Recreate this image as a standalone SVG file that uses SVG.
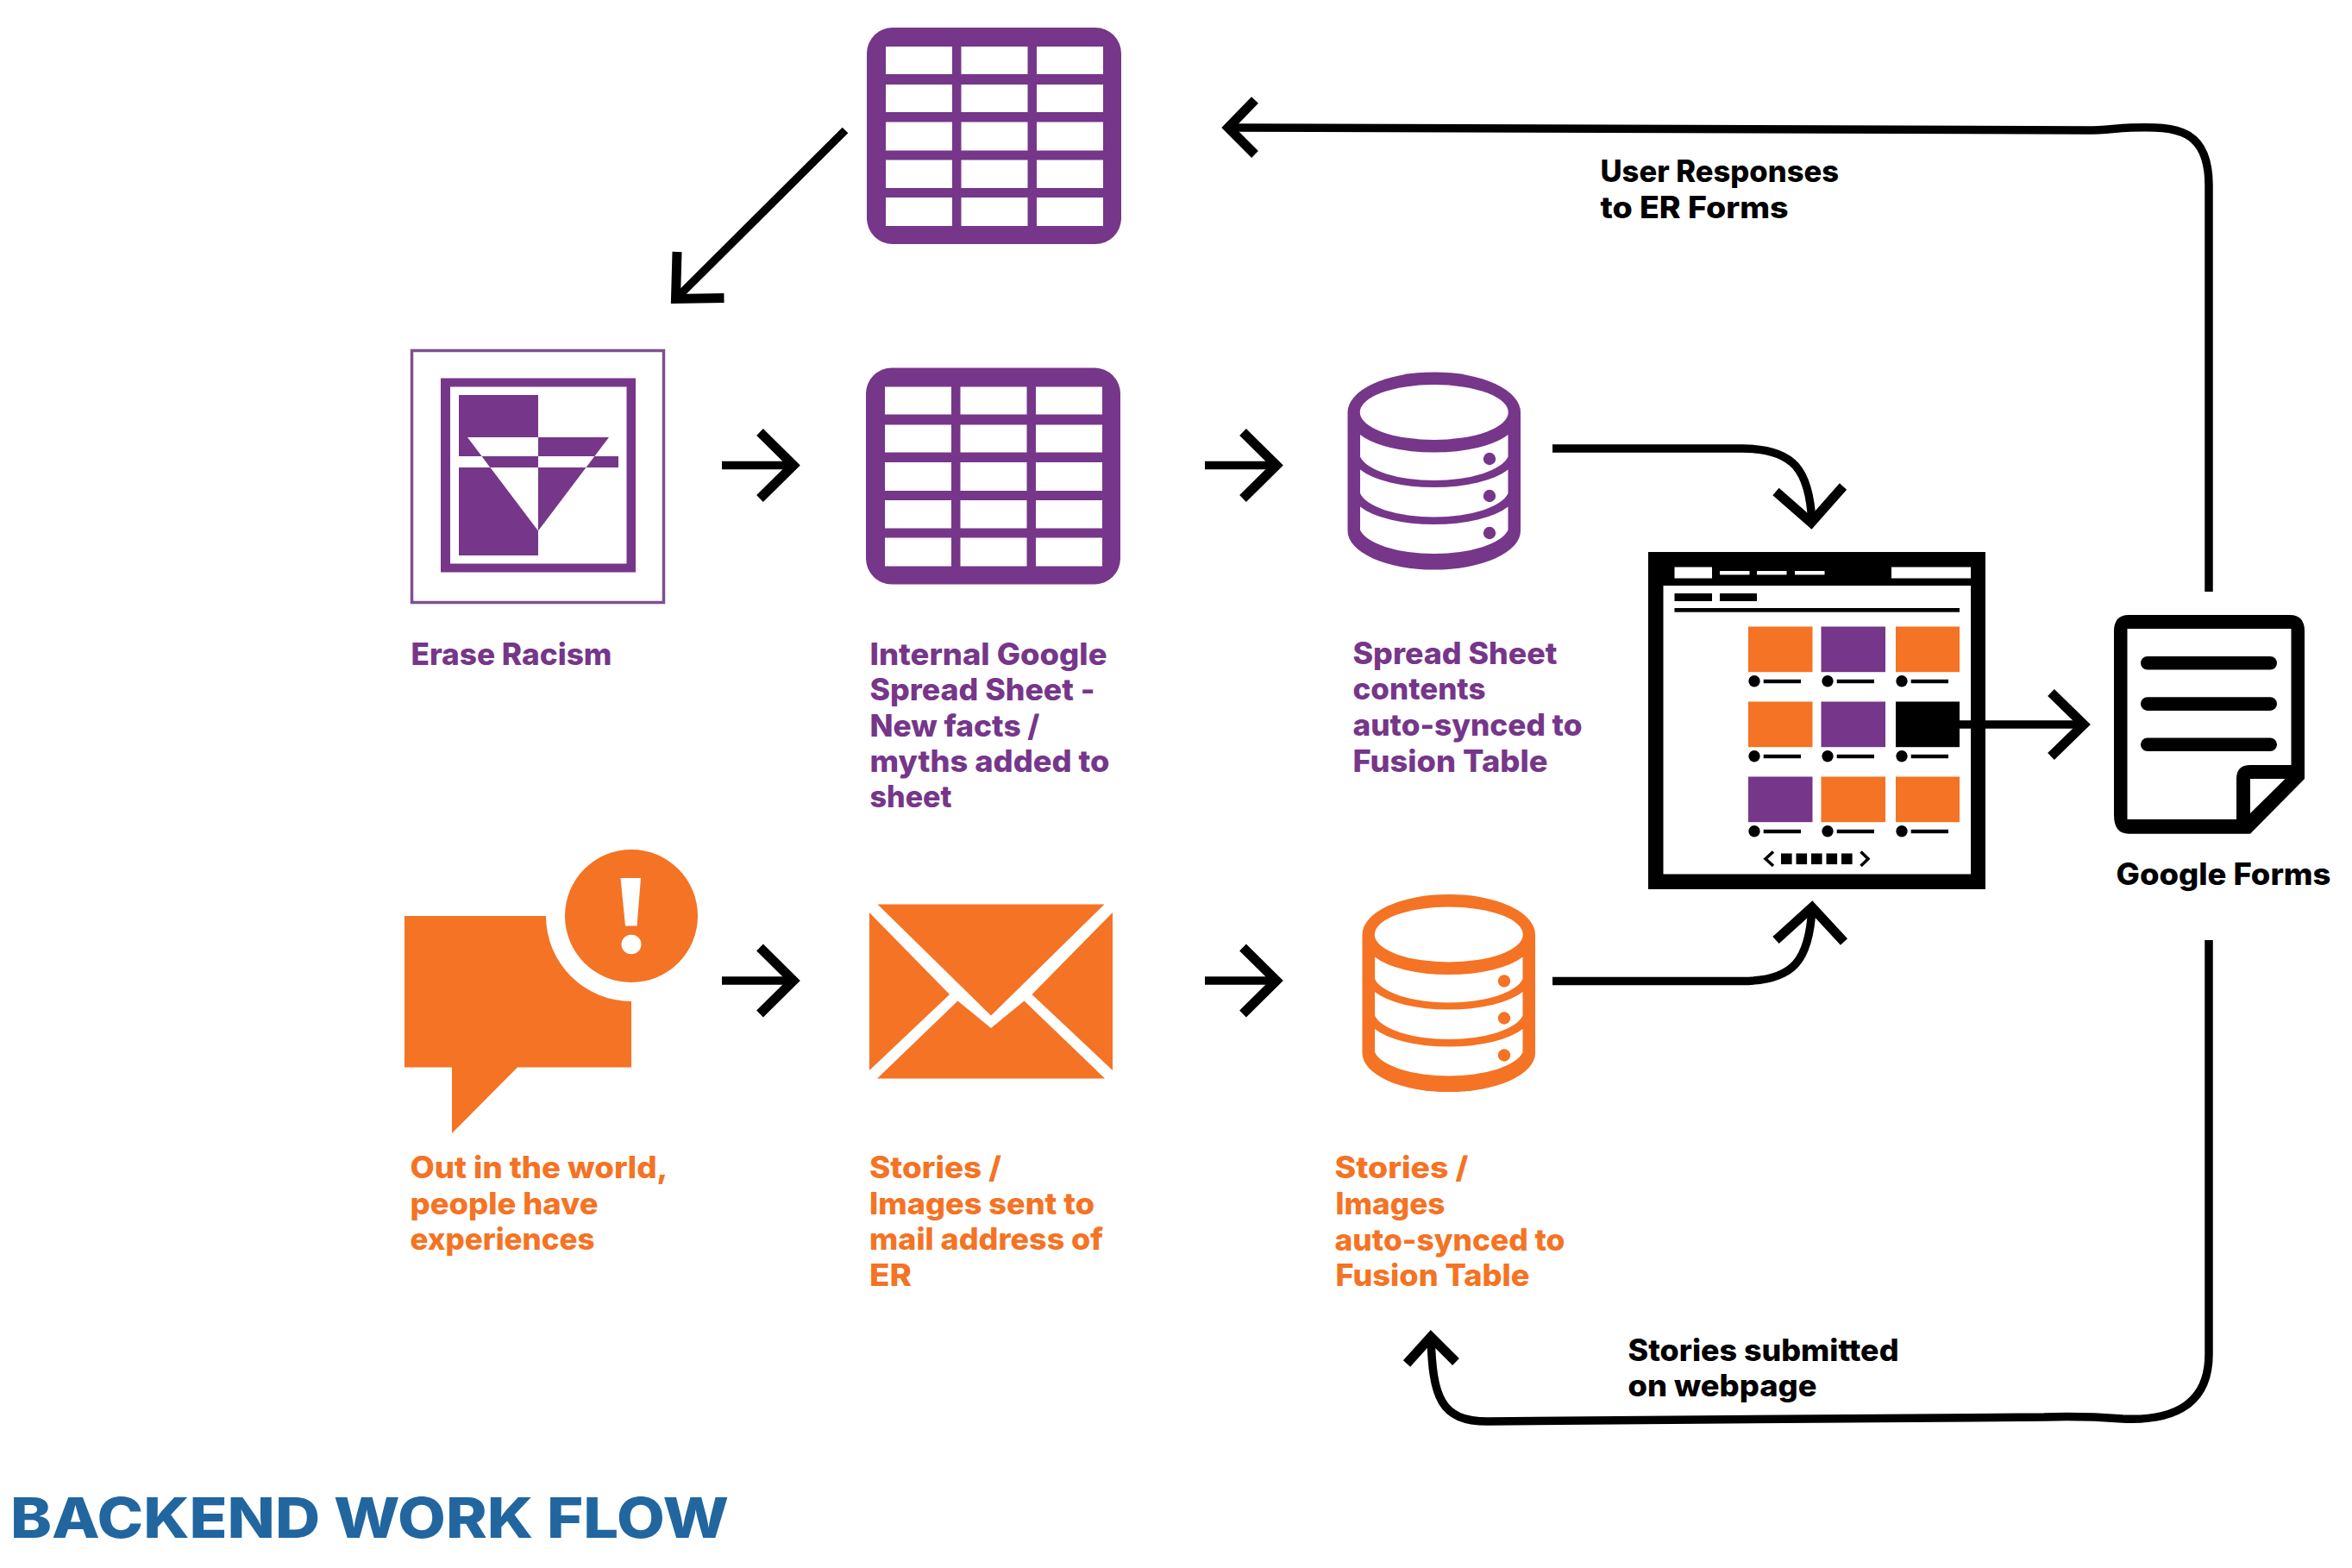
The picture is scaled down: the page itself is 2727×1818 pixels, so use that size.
<svg xmlns="http://www.w3.org/2000/svg" xmlns:xlink="http://www.w3.org/1999/xlink" width="2727" height="1818" viewBox="0 0 2727 1818">
<style>
text{font-family:"Inter","Liberation Sans",sans-serif;font-weight:800;font-size:35px}
.p{fill:#76368a}.o{fill:#f47324}.k{fill:#000}.w{fill:#fff}
.lnk{fill:none;stroke:#000;stroke-width:9.5;stroke-miterlimit:10}
.head{fill:none;stroke:#000;stroke-width:11;stroke-miterlimit:10}
</style>
<defs>
<g id="tbl">
<rect width="295" height="251" rx="30" ry="30"/>
<g class="w">
<rect x="22" y="22" width="77" height="32"/><rect x="109.5" y="22" width="77" height="32"/><rect x="197" y="22" width="77" height="32"/>
<rect x="22" y="66" width="77" height="32"/><rect x="109.5" y="66" width="77" height="32"/><rect x="197" y="66" width="77" height="32"/>
<rect x="22" y="109.5" width="77" height="33"/><rect x="109.5" y="109.5" width="77" height="33"/><rect x="197" y="109.5" width="77" height="33"/>
<rect x="22" y="153.5" width="77" height="32.5"/><rect x="109.5" y="153.5" width="77" height="32.5"/><rect x="197" y="153.5" width="77" height="32.5"/>
<rect x="22" y="197" width="77" height="33"/><rect x="109.5" y="197" width="77" height="33"/><rect x="197" y="197" width="77" height="33"/>
</g>
</g>
<g id="db">
<path d="M0 46.5A100 46.5 0 0 1 200.500 46.500V184A100 45 0 0 1 0 184Z"/>
<g class="w">
<ellipse cx="100.250" cy="46.500" rx="86" ry="32"/>
<path d="M14.500 72.500A95 36 0 0 0 186 72.500V98A87 33 0 0 1 14.500 98Z"/>
<path d="M14.500 113A95 36 0 0 0 186 113V140.500A87 33 0 0 1 14.500 140.500Z"/>
<path d="M14.500 156A95 36 0 0 0 186 156V183A87 33 0 0 1 14.500 183Z"/>
</g>
<circle cx="164.500" cy="100.500" r="7.200"/><circle cx="164.500" cy="143.500" r="7.200"/><circle cx="164.500" cy="186.500" r="7.200"/>
</g>
<g id="cap"><circle cx="7" cy="10.600" r="6.700"/><rect x="17.700" y="8.600" width="43.300" height="4.400"/></g>
</defs>
<rect class="w" width="2727" height="1818"/>

<g id="table-top" class="p"><use href="#tbl" xlink:href="#tbl" x="1005" y="32"/></g>

<g id="erase-racism">
<rect x="477.500" y="406.500" width="292" height="292" fill="none" stroke="#80508f" stroke-width="3.500"/>
<path class="p" fill-rule="evenodd" d="M511 438.500H737V663.500H511ZM522 448.500V653.500H726.500V448.500Z"/>
<rect class="p" x="532" y="458" width="92" height="186"/>
<path class="w" d="M542 507H624V615.600Z"/>
<path class="p" d="M624 507H706L624 615.600Z"/>
<path class="w" d="M532 529H558.600L568.400 542H532Z"/>
<path class="p" d="M558.600 529H624V542H568.400Z"/>
<path class="w" d="M624 529H689.400L679.600 542H624Z"/>
<path class="p" d="M689.400 529H717V542H679.600Z"/>
<text class="p" x="476.500" y="770.500" textLength="233" lengthAdjust="spacingAndGlyphs">Erase Racism</text>
</g>

<g id="internal-sheet" class="p">
<use href="#tbl" xlink:href="#tbl" x="1004" y="426.500"/>
<text x="1008.500" y="770.500" textLength="275" lengthAdjust="spacingAndGlyphs">Internal Google</text>
<text x="1008.500" y="812" textLength="261" lengthAdjust="spacingAndGlyphs">Spread Sheet -</text>
<text x="1008.500" y="853.500" textLength="197" lengthAdjust="spacingAndGlyphs">New facts /</text>
<text x="1008.500" y="895" textLength="278" lengthAdjust="spacingAndGlyphs">myths added to</text>
<text x="1008.500" y="936" textLength="95" lengthAdjust="spacingAndGlyphs">sheet</text>
</g>

<g id="db-purple" class="p">
<use href="#db" xlink:href="#db" x="1562.500" y="431.500"/>
<text x="1568.500" y="770" textLength="237" lengthAdjust="spacingAndGlyphs">Spread Sheet</text>
<text x="1568.500" y="811" textLength="154" lengthAdjust="spacingAndGlyphs">contents</text>
<text x="1568.500" y="853" textLength="266" lengthAdjust="spacingAndGlyphs">auto-synced to</text>
<text x="1568.500" y="895" textLength="226" lengthAdjust="spacingAndGlyphs">Fusion Table</text>
</g>

<g id="speech-bubble" class="o">
<path d="M469 1062H732V1237.500H600L524 1314V1237.500H469Z"/>
<circle class="w" cx="732" cy="1062" r="99"/>
<circle cx="732" cy="1062" r="77"/>
<path class="w" d="M719.500 1018H743L738.500 1073.500H725Z"/>
<ellipse class="w" cx="732" cy="1095" rx="11.500" ry="11.200"/>
<text x="475.500" y="1366" textLength="299" lengthAdjust="spacingAndGlyphs">Out in the world,</text>
<text x="475.500" y="1407.500" textLength="218" lengthAdjust="spacingAndGlyphs">people have</text>
<text x="475.500" y="1449" textLength="214" lengthAdjust="spacingAndGlyphs">experiences</text>
</g>

<g id="envelope" class="o">
<path d="M1017.500 1048.500H1280.500L1149 1177.500Z"/>
<path d="M1008 1058L1101 1153L1008 1241Z"/>
<path d="M1290 1058L1196.500 1153L1290 1241Z"/>
<path d="M1017 1250.500L1110.500 1160.500L1149 1192L1187.500 1160.500L1281 1250.500Z"/>
<text x="1008" y="1366" textLength="153" lengthAdjust="spacingAndGlyphs">Stories /</text>
<text x="1008" y="1407.500" textLength="261" lengthAdjust="spacingAndGlyphs">Images sent to</text>
<text x="1008" y="1449" textLength="271" lengthAdjust="spacingAndGlyphs">mail address of</text>
<text x="1008" y="1491" textLength="49" lengthAdjust="spacingAndGlyphs">ER</text>
</g>

<g id="db-orange" class="o">
<use href="#db" xlink:href="#db" x="1579.500" y="1037"/>
<text x="1547.500" y="1365.500" textLength="155" lengthAdjust="spacingAndGlyphs">Stories /</text>
<text x="1548.500" y="1408" textLength="127" lengthAdjust="spacingAndGlyphs">Images</text>
<text x="1547.500" y="1449.500" textLength="267" lengthAdjust="spacingAndGlyphs">auto-synced to</text>
<text x="1548.500" y="1491" textLength="225" lengthAdjust="spacingAndGlyphs">Fusion Table</text>
</g>

<g id="webpage">
<rect class="k" x="1911" y="640" width="391" height="391"/>
<rect class="w" x="1928.500" y="679" width="356.500" height="334.500"/>
<g class="w">
<rect x="1941.500" y="657.500" width="43.500" height="13"/>
<rect x="1994" y="662" width="34.500" height="4.400"/><rect x="2037" y="662" width="34.500" height="4.400"/><rect x="2081" y="662" width="34.500" height="4.400"/>
<rect x="2193" y="657.500" width="92" height="13"/>
</g>
<g class="k">
<rect x="1941.500" y="688" width="43.500" height="9"/><rect x="1994" y="688" width="43" height="9"/>
<rect x="1941.500" y="705" width="330.500" height="4.700"/>
</g>
<rect class="o" x="2027" y="726.500" width="74.500" height="52.700"/><rect class="p" x="2111.500" y="726.500" width="74.500" height="52.700"/><rect class="o" x="2198" y="726.500" width="74" height="52.700"/>
<rect class="o" x="2027" y="813.500" width="74.500" height="52.700"/><rect class="p" x="2111.500" y="813.500" width="74.500" height="52.700"/><rect class="k" x="2198" y="813.500" width="74" height="52.700"/>
<rect class="p" x="2027" y="900.500" width="74.500" height="52.700"/><rect class="o" x="2111.500" y="900.500" width="74.500" height="52.700"/><rect class="o" x="2198" y="900.500" width="74" height="52.700"/>
<g class="k">
<use href="#cap" xlink:href="#cap" x="2027" y="779.200"/><use href="#cap" xlink:href="#cap" x="2112" y="779.200"/><use href="#cap" xlink:href="#cap" x="2198" y="779.200"/>
<use href="#cap" xlink:href="#cap" x="2027" y="866.200"/><use href="#cap" xlink:href="#cap" x="2112" y="866.200"/><use href="#cap" xlink:href="#cap" x="2198" y="866.200"/>
<use href="#cap" xlink:href="#cap" x="2027" y="953.200"/><use href="#cap" xlink:href="#cap" x="2112" y="953.200"/><use href="#cap" xlink:href="#cap" x="2198" y="953.200"/>
<rect x="2065" y="989.500" width="12.600" height="12.600"/><rect x="2082.500" y="989.500" width="12.600" height="12.600"/><rect x="2100" y="989.500" width="12.600" height="12.600"/><rect x="2117.500" y="989.500" width="12.600" height="12.600"/><rect x="2135" y="989.500" width="12.600" height="12.600"/>
</g>
<path d="M2056 987.500L2047 995.800L2056 1004M2157.500 987.500L2166 995.800L2157.500 1004" fill="none" stroke="#000" stroke-width="3.500"/>
</g>

<g id="google-forms">
<path class="k" d="M2468 713H2655Q2672 713 2672 732V903L2609 966.700H2468Q2451 966.700 2451 945V732Q2451 713 2468 713Z"/>
<path class="w" d="M2466.500 729H2656.500V887H2609Q2593 887 2593 903V950H2466.500Z"/>
<path class="w" d="M2609 903H2649.500L2609 943Z"/>
<g class="k">
<rect x="2482" y="761" width="158" height="15.600" rx="7.800"/>
<rect x="2482" y="808.300" width="158" height="15.600" rx="7.800"/>
<rect x="2482" y="855.500" width="158" height="15.600" rx="7.800"/>
</g>
<text class="k" x="2453.500" y="1025.500" textLength="249" lengthAdjust="spacingAndGlyphs">Google Forms</text>
</g>

<g id="labels">
<text class="k" x="1855.500" y="211" textLength="276.500" lengthAdjust="spacingAndGlyphs">User Responses</text>
<text class="k" x="1855.500" y="252.500" textLength="218" lengthAdjust="spacingAndGlyphs">to ER Forms</text>
<text class="k" x="1887.500" y="1578" textLength="314" lengthAdjust="spacingAndGlyphs">Stories submitted</text>
<text class="k" x="1887.500" y="1619" textLength="219" lengthAdjust="spacingAndGlyphs">on webpage</text>
<text x="12" y="1783" fill="#21669f" style="font-size:65px" textLength="833" lengthAdjust="spacingAndGlyphs">BACKEND WORK FLOW</text>
</g>

<g id="connectors">
<path class="lnk" d="M980 151L783 347"/>
<path class="head" d="M785 292L783.500 346.500L839.500 345.500"/>
<path class="lnk" d="M837 539.500H923"/>
<path class="head" d="M881 501L920 539.500L881 578"/>
<path class="lnk" d="M1397 539.500H1483"/>
<path class="head" d="M1441 501L1480 539.500L1441 578"/>
<path class="lnk" d="M837 1137H923"/>
<path class="head" d="M881 1098.500L920 1137L881 1175.500"/>
<path class="lnk" d="M1397 1137H1483"/>
<path class="head" d="M1441 1098.500L1480 1137L1441 1175.500"/>
<path class="lnk" d="M1800 520H2020C2080 520 2098 545 2101 606"/>
<path class="head" d="M2059 570L2100 606L2137 564"/>
<path class="lnk" d="M1800 1137.500H2020C2080 1137.500 2098 1113 2101 1052"/>
<path class="head" d="M2059 1090L2101 1052L2138 1092"/>
<path class="lnk" d="M2272 840H2418"/>
<path class="head" d="M2378 803L2416 840L2378 877"/>
<path class="lnk" d="M2561 686V215C2561 150 2525 146 2470 148C2450 149 2440 151 2420 151L1424 148"/>
<path class="head" d="M1455 116L1424 148L1455 179"/>
<path class="lnk" d="M2561 1090V1570C2561 1625 2525 1648 2461 1645C2420 1642 2400 1642 2370 1643L1725 1648C1670 1648 1661 1620 1659 1550"/>
<path class="head" d="M1631 1581L1659 1550L1688 1579"/>
</g>
</svg>
